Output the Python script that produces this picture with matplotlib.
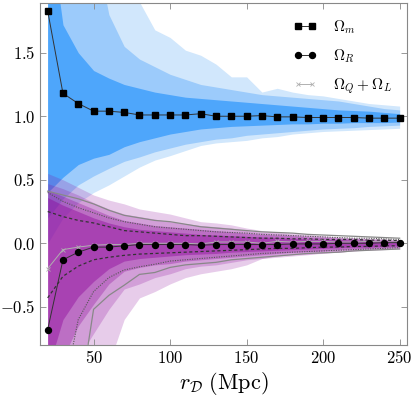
import numpy as np
import matplotlib
matplotlib.use('Agg')
import matplotlib.pyplot as plt
from matplotlib.ticker import FuncFormatter

plt.rcParams['mathtext.fontset'] = 'cm'
plt.rcParams['font.family'] = 'serif'
plt.rcParams['font.serif'] = ['DejaVu Serif']

r = [20, 30, 40, 50, 60, 70, 80, 90, 100, 110, 120, 130, 140, 150, 160, 170,
     180, 190, 200, 210, 220, 230, 240, 250]

# averaged parameters
omega_m = [1.83, 1.18, 1.10, 1.04, 1.04, 1.03, 1.01, 1.01, 1.01, 1.01, 1.02, 1.00,
           1.00, 1.00, 1.005, 0.995, 0.995, 0.99, 0.99, 0.99, 0.99, 0.985, 0.985, 0.985]
omega_R = [-0.68, -0.13, -0.07, -0.03, -0.03, -0.02, -0.01, -0.01, -0.01, -0.01, -0.015, -0.01,
           -0.01, -0.01, -0.01, -0.01, -0.005, -0.005, -0.005, 0.0, 0.0, 0.0, 0.005, 0.005]
omega_QL = [-0.2, -0.05, -0.03, -0.015, -0.01, -0.01, 0.0, 0.0, 0.0, 0.0, -0.005, 0.01,
            0.01, 0.01, 0.0, 0.015, 0.01, 0.015, 0.015, 0.01, 0.01, 0.015, 0.01, 0.01]

# Omega_m bands
m_lo1 = [0.40, 0.52, 0.62, 0.67, 0.70, 0.76, 0.80, 0.83, 0.86, 0.88, 0.90, 0.91,
         0.92, 0.925, 0.93, 0.935, 0.94, 0.94, 0.945, 0.945, 0.95, 0.95, 0.95, 0.955]
m_hi1 = [2.6, 1.72, 1.50, 1.36, 1.30, 1.25, 1.22, 1.19, 1.17, 1.15, 1.14, 1.13,
         1.12, 1.11, 1.10, 1.09, 1.08, 1.07, 1.06, 1.05, 1.045, 1.04, 1.03, 1.02]
m_lo2 = [0.20, 0.35, 0.46, 0.53, 0.59, 0.645, 0.68, 0.72, 0.75, 0.78, 0.80, 0.82,
         0.83, 0.85, 0.86, 0.87, 0.88, 0.89, 0.90, 0.905, 0.91, 0.92, 0.925, 0.93]
m_hi2 = [2.6, 2.6, 2.6, 2.4, 1.80, 1.55, 1.45, 1.39, 1.33, 1.29, 1.25, 1.23,
         1.21, 1.19, 1.17, 1.16, 1.15, 1.14, 1.13, 1.12, 1.10, 1.08, 1.06, 1.05]
m_lo3 = [0.0, 0.20, 0.32, 0.40, 0.46, 0.53, 0.60, 0.655, 0.69, 0.73, 0.77, 0.79,
         0.80, 0.81, 0.83, 0.84, 0.86, 0.87, 0.88, 0.885, 0.89, 0.895, 0.90, 0.905]
m_hi3 = [2.6, 2.6, 2.6, 2.6, 2.6, 2.6, 1.90, 1.68, 1.62, 1.52, 1.48, 1.41,
         1.31, 1.31, 1.19, 1.22, 1.19, 1.17, 1.16, 1.14, 1.12, 1.10, 1.09, 1.08]

# Omega_R bands
R_hi4 = [0.55, 0.50, 0.44, 0.38, 0.34, 0.31, 0.27, 0.25, 0.23, 0.20, 0.17, 0.16,
         0.145, 0.12, 0.10, 0.09, 0.08, 0.07, 0.06, 0.05, 0.045, 0.04, 0.035, 0.03]
R_hi3 = [0.47, 0.43, 0.38, 0.32, 0.27, 0.23, 0.21, 0.19, 0.17, 0.155, 0.14, 0.13,
         0.12, 0.10, 0.085, 0.08, 0.07, 0.06, 0.055, 0.045, 0.04, 0.035, 0.03, 0.025]
R_hi2 = [0.42, 0.37, 0.32, 0.27, 0.22, 0.18, 0.16, 0.14, 0.13, 0.12, 0.11, 0.10,
         0.09, 0.08, 0.07, 0.065, 0.06, 0.05, 0.045, 0.04, 0.035, 0.03, 0.025, 0.02]
R_hi1 = [0.36, 0.30, 0.25, 0.20, 0.16, 0.13, 0.11, 0.10, 0.09, 0.08, 0.07, 0.065,
         0.06, 0.055, 0.05, 0.045, 0.04, 0.035, 0.03, 0.03, 0.025, 0.02, 0.02, 0.015]
R_lo1 = [-1.0, -0.60, -0.42, -0.30, -0.20, -0.14, -0.12, -0.11, -0.10, -0.09, -0.085, -0.08,
         -0.07, -0.065, -0.06, -0.055, -0.05, -0.045, -0.04, -0.035, -0.03, -0.03, -0.025, -0.02]
R_lo2 = [-1.3, -0.9, -0.65, -0.48, -0.32, -0.22, -0.19, -0.17, -0.16, -0.14, -0.13, -0.12,
         -0.11, -0.10, -0.09, -0.08, -0.07, -0.065, -0.06, -0.05, -0.045, -0.04, -0.035, -0.03]
R_lo3 = [-1.6, -1.2, -0.9, -0.71, -0.52, -0.36, -0.32, -0.27, -0.24, -0.20, -0.18, -0.17,
         -0.15, -0.13, -0.12, -0.10, -0.09, -0.085, -0.08, -0.07, -0.06, -0.05, -0.045, -0.04]
R_lo4 = [-2.0, -1.6, -1.3, -1.0, -0.95, -0.60, -0.43, -0.38, -0.32, -0.27, -0.24, -0.22,
         -0.20, -0.17, -0.12, -0.11, -0.10, -0.09, -0.075, -0.07, -0.06, -0.055, -0.05, -0.045]

# Omega_Q + Omega_L contours
QL_hi1 = [0.25, 0.21, 0.18, 0.16, 0.13, 0.10, 0.09, 0.08, 0.07, 0.06, 0.06, 0.055,
          0.05, 0.045, 0.04, 0.04, 0.035, 0.035, 0.03, 0.03, 0.03, 0.025, 0.025, 0.02]
QL_lo1 = [-0.43, -0.26, -0.18, -0.13, -0.11, -0.095, -0.085, -0.08, -0.075, -0.07, -0.065, -0.06,
          -0.055, -0.05, -0.045, -0.04, -0.04, -0.035, -0.03, -0.03, -0.025, -0.025, -0.02, -0.02]
QL_hi2 = [0.40, 0.33, 0.28, 0.24, 0.20, 0.17, 0.15, 0.13, 0.12, 0.11, 0.10, 0.09,
          0.085, 0.08, 0.07, 0.065, 0.06, 0.055, 0.05, 0.045, 0.04, 0.04, 0.035, 0.03]
QL_lo2 = [-1.5, -1.2, -0.6, -0.38, -0.27, -0.21, -0.185, -0.165, -0.14, -0.13, -0.12, -0.11,
          -0.10, -0.09, -0.08, -0.075, -0.07, -0.065, -0.06, -0.055, -0.05, -0.045, -0.04, -0.035]
QL_hi3 = [0.41, 0.38, 0.35, 0.31, 0.26, 0.22, 0.20, 0.18, 0.17, 0.15, 0.13, 0.12,
          0.11, 0.10, 0.09, 0.085, 0.08, 0.07, 0.065, 0.06, 0.055, 0.05, 0.045, 0.04]
QL_lo3 = [-2.0, -1.6, -1.3, -0.52, -0.41, -0.33, -0.245, -0.23, -0.19, -0.17, -0.16, -0.15,
          -0.13, -0.12, -0.11, -0.10, -0.09, -0.08, -0.075, -0.07, -0.06, -0.055, -0.05, -0.045]

fig = plt.figure(figsize=(4.15, 3.96), dpi=100)
ax = fig.add_axes([0.0964, 0.129, 0.885, 0.863])

ax.fill_between(r, m_lo3, m_hi3, color='#d1e7fc', lw=0)
ax.fill_between(r, m_lo2, m_hi2, color='#9ccbfb', lw=0)
ax.fill_between(r, m_lo1, m_hi1, color='#4ea6fb', lw=0)

purple = '#8b0099'
ax.fill_between(r, R_lo4, R_hi4, color=purple, alpha=0.2, lw=0)
ax.fill_between(r, R_lo3, R_hi3, color=purple, alpha=0.22, lw=0)
ax.fill_between(r, R_lo2, R_hi2, color=purple, alpha=0.3, lw=0)
ax.fill_between(r, R_lo1, R_hi1, color=purple, alpha=0.4, lw=0)

ax.plot(r, QL_hi1, color='#333333', ls=(0, (2.5, 2)), lw=0.9)
ax.plot(r, QL_lo1, color='#333333', ls=(0, (2.5, 2)), lw=0.9)
ax.plot(r, QL_hi2, color='#555555', ls=(0, (1, 1.2)), lw=0.8)
ax.plot(r, QL_lo2, color='#555555', ls=(0, (1, 1.2)), lw=0.8)
ax.plot(r, QL_hi3, color='#888888', lw=0.9)
ax.plot(r, QL_lo3, color='#888888', lw=0.9)

ax.plot(r, omega_QL, color='#b0b0b0', lw=0.7, marker='x', ms=3, mew=0.6,
        label=r'$\Omega_Q+\Omega_L$', zorder=2.1)
ax.plot(r, omega_m, color='#333333', lw=0.7, marker='s', ms=4.0, mfc='black', mec='black',
        label=r'$\Omega_m$', zorder=2.5)
ax.plot(r, omega_R, color='#333333', lw=0.7, marker='o', ms=4.3, mfc='black', mec='black',
        label=r'$\Omega_R$', zorder=2.5)

ax.set_xlim(15, 255)
ax.set_ylim(-0.8, 1.89)
ax.set_xticks([50, 100, 150, 200, 250])
ax.set_yticks([-0.5, 0.0, 0.5, 1.0, 1.5])
ax.xaxis.set_major_formatter(FuncFormatter(lambda v, p: f'${v:.0f}$'))
ax.yaxis.set_major_formatter(FuncFormatter(lambda v, p: f'${v:.1f}$'))
ax.tick_params(direction='in', top=True, right=True, length=4, width=0.6,
               color='#888888', labelsize=12)
for s in ax.spines.values():
    s.set_color('#888888')
    s.set_linewidth(0.8)
ax.set_xlabel(r'$r_{\mathcal{D}}\ (\mathrm{Mpc})$', fontsize=16, labelpad=2)

handles, labels = ax.get_legend_handles_labels()
order = [1, 2, 0]
ax.legend([handles[i] for i in order], [labels[i] for i in order],
          loc='upper right', frameon=False, fontsize=11, handlelength=1.5,
          numpoints=2, handletextpad=1.1, borderaxespad=0.6, labelspacing=0.75)

fig.savefig('out.png', dpi=100)
